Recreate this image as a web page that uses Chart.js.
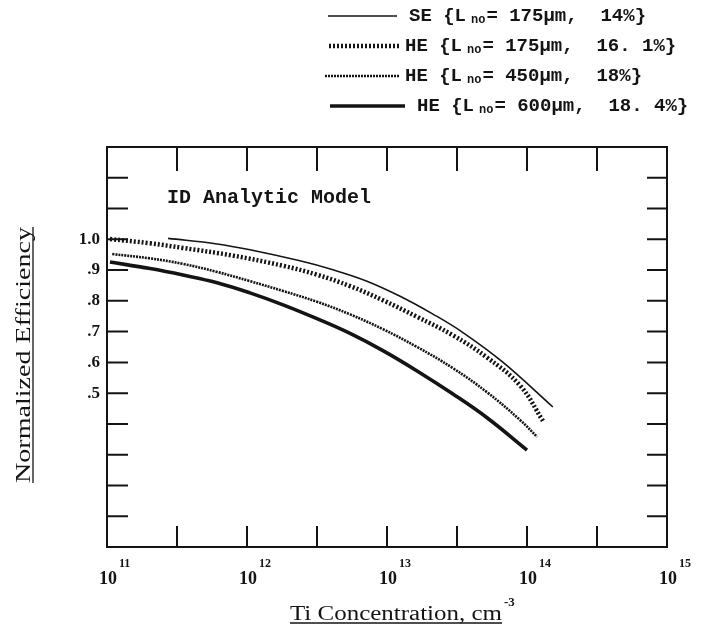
<!DOCTYPE html>
<html><head><meta charset="utf-8">
<script src="https://cdn.jsdelivr.net/npm/chart.js@4/dist/chart.umd.min.js"></script>
<style>html,body{margin:0;padding:0;background:#fff;}canvas{display:block;}</style>
</head><body>
<canvas id="c" width="703" height="628"></canvas>
<script>
// ---- data ----
const seX    = [2.73e11, 6.11e11, 1.05e12, 2.39e12, 4.11e12, 7.19e12, 1.24e13, 2.13e13, 3.49e13, 6.75e13, 1.53e14];
const seY    = [1.003, 0.985, 0.966, 0.930, 0.901, 0.864, 0.815, 0.757, 0.697, 0.600, 0.455];
const he175X = [1.05e11, 2.03e11, 3.49e11, 7.94e11, 1.81e12, 3.16e12, 5.45e12, 9.35e12, 1.64e13, 2.96e13, 5.18e13, 8.91e13, 1.30e14];
const he175Y = [1.001, 0.987, 0.972, 0.947, 0.914, 0.885, 0.848, 0.802, 0.748, 0.688, 0.616, 0.525, 0.410];
const he450X = [1.09e11, 2.03e11, 3.49e11, 6.11e11, 1.05e12, 1.81e12, 3.16e12, 5.45e12, 9.35e12, 1.64e13, 2.96e13, 5.18e13, 8.91e13, 1.18e14];
const he450Y = [0.952, 0.938, 0.920, 0.894, 0.864, 0.832, 0.797, 0.756, 0.708, 0.650, 0.581, 0.503, 0.413, 0.358];
const he600X = [1.05e11, 2.03e11, 3.49e11, 6.11e11, 1.05e12, 1.81e12, 3.16e12, 5.45e12, 9.35e12, 1.64e13, 2.96e13, 5.18e13, 1.00e14];
const he600Y = [0.926, 0.905, 0.884, 0.859, 0.826, 0.787, 0.742, 0.694, 0.638, 0.572, 0.497, 0.420, 0.315];

const seriesPrefix = ['SE {L', 'HE {L', 'HE {L', 'HE {L'];
const seriesSub    = ['no', 'no', 'no', 'no'];
const seriesSuffix = ['= 175\u00b5m,  14%}', '= 175\u00b5m,  16. 1%}', '= 450\u00b5m,  18%}', '= 600\u00b5m,  18. 4%}'];

const xTickExps   = [11, 11.5, 12, 12.5, 13, 13.5, 14, 14.5, 15];
const xLabelExps  = [11, 12, 13, 14, 15];
const yLabelVals  = [0.5, 0.6, 0.7, 0.8, 0.9, 1.0];
const yLabelTexts = ['.5', '.6', '.7', '.8', '.9', '1.0'];
const annotation  = 'ID Analytic Model';
const yTitle = 'Normalized Efficiency';
const xTitle = 'Ti Concentration, cm';
const xTitleSup = '-3';

const pts = (xs, ys) => xs.map((x, i) => ({x: x, y: ys[i]}));
const INK = '#141414';

const datasets = [
  {data: pts(seX, seY),       borderWidth: 1.6, borderDash: []},
  {data: pts(he175X, he175Y), borderWidth: 4.5, borderDash: [2, 2]},
  {data: pts(he450X, he450Y), borderWidth: 2.6, borderDash: [2, 1]},
  {data: pts(he600X, he600Y), borderWidth: 3.6, borderDash: []}
].map((d, i) => Object.assign(d, {
  label: seriesPrefix[i] + ' ' + seriesSub[i] + seriesSuffix[i],
  borderColor: INK, backgroundColor: INK, pointRadius: 0, fill: false,
  tension: 0.4
}));

const SERIF = '"Liberation Serif", "DejaVu Serif", serif';
const MONO = '"Liberation Mono", "DejaVu Sans Mono", monospace';

const decor = {
  id: 'decor',
  afterDraw(chart) {
    const ctx = chart.ctx, a = chart.chartArea;
    const xs = chart.scales.x, ys = chart.scales.y;
    ctx.save();
    ctx.strokeStyle = INK; ctx.fillStyle = INK; ctx.setLineDash([]);
    // frame
    ctx.lineWidth = 2;
    ctx.strokeRect(a.left, a.top, a.right - a.left, a.bottom - a.top);
    // inward ticks on x (top + bottom)
    xs.ticks.forEach(t => {
      const px = xs.getPixelForValue(t.value);
      if (px <= a.left + 1 || px >= a.right - 1) return;
      ctx.beginPath();
      ctx.moveTo(px, a.top); ctx.lineTo(px, a.top + 24);
      ctx.moveTo(px, a.bottom); ctx.lineTo(px, a.bottom - 21);
      ctx.stroke();
    });
    // inward ticks on y (left + right)
    ys.ticks.forEach(t => {
      const py = ys.getPixelForValue(t.value);
      if (py <= a.top + 1 || py >= a.bottom - 1) return;
      ctx.beginPath();
      ctx.moveTo(a.left, py); ctx.lineTo(a.left + 21, py);
      ctx.moveTo(a.right, py); ctx.lineTo(a.right - 20, py);
      ctx.stroke();
    });
    // x decade labels 10^n
    xLabelExps.forEach(e => {
      const px = xs.getPixelForValue(Math.pow(10, e));
      ctx.font = 'bold 18px ' + SERIF;
      ctx.textAlign = 'center'; ctx.textBaseline = 'alphabetic';
      ctx.fillText('10', px + 1, 584);
      const w = ctx.measureText('10').width;
      ctx.font = 'bold 12px ' + SERIF;
      ctx.textAlign = 'left';
      ctx.fillText(String(e), px + 1 + w / 2 + 2, 567);
    });
    // x title (underlined) with superscript
    ctx.font = '20px ' + SERIF;
    ctx.textAlign = 'left';
    const tx = 290, tb = 620, target = 212;
    const mw = ctx.measureText(xTitle).width;
    ctx.save();
    ctx.translate(tx, tb); ctx.scale(target / mw, 1);
    ctx.fillText(xTitle, 0, 0);
    ctx.restore();
    ctx.lineWidth = 1.3;
    ctx.beginPath(); ctx.moveTo(tx, tb + 3); ctx.lineTo(tx + target, tb + 3); ctx.stroke();
    ctx.font = 'bold 13px ' + SERIF;
    ctx.fillText(xTitleSup, tx + target + 2, 606);
    // y title rotated, underlined
    ctx.save();
    ctx.translate(30, 355); ctx.rotate(-Math.PI / 2);
    ctx.font = '20px ' + SERIF;
    ctx.textAlign = 'left';
    const yw = ctx.measureText(yTitle).width, yt = 256;
    ctx.save(); ctx.scale(yt / yw, 1); ctx.fillText(yTitle, -yw / 2, 0); ctx.restore();
    ctx.lineWidth = 1.3;
    ctx.beginPath(); ctx.moveTo(-yt / 2, 3); ctx.lineTo(yt / 2, 3); ctx.stroke();
    ctx.restore();
    // annotation
    ctx.font = 'bold 20px ' + MONO;
    ctx.textAlign = 'left'; ctx.textBaseline = 'middle';
    ctx.fillText(annotation, 167, 198);
    // legend
    const rowY = [16, 46, 76, 106];
    const lineX0 = [328, 329, 325, 330], lineX1 = [397, 400, 400, 405], textX = [409, 405, 405, 417];
    chart.data.datasets.forEach((ds, i) => {
      const y = rowY[i];
      ctx.lineWidth = ds.borderWidth; ctx.setLineDash(ds.borderDash || []);
      ctx.beginPath(); ctx.moveTo(lineX0[i], y); ctx.lineTo(lineX1[i], y); ctx.stroke();
      ctx.setLineDash([]);
      let x = textX[i];
      ctx.textBaseline = 'middle';
      ctx.font = 'bold 19px ' + MONO;
      ctx.fillText(seriesPrefix[i], x, y); x += ctx.measureText(seriesPrefix[i]).width + 5;
      ctx.font = 'bold 12px ' + MONO;
      ctx.fillText(seriesSub[i], x, y + 4); x += ctx.measureText(seriesSub[i]).width + 1;
      ctx.font = 'bold 19px ' + MONO;
      ctx.fillText(seriesSuffix[i], x, y);
    });
    ctx.restore();
  }
};

new Chart(document.getElementById('c'), {
  type: 'line',
  data: {datasets: datasets},
  options: {
    responsive: false, animation: false,
    layout: {padding: {top: 147, right: 36, left: 0, bottom: 0}},
    plugins: {legend: {display: false}, tooltip: {enabled: false}},
    scales: {
      x: {
        type: 'logarithmic', min: 1e11, max: 1e15,
        grid: {display: false}, border: {display: false},
        ticks: {display: false},
        afterBuildTicks: s => { s.ticks = xTickExps.map(e => ({value: Math.pow(10, e)})); },
        afterFit: s => { s.height = 81; }
      },
      y: {
        type: 'linear', min: 0, max: 1.3,
        grid: {display: false, drawTicks: false}, border: {display: false},
        ticks: {
          stepSize: 0.1, padding: 7, color: INK,
          font: {family: SERIF, size: 17, weight: 'bold'},
          callback: v => {
            const k = yLabelVals.findIndex(q => Math.abs(q - v) < 1e-6);
            return k >= 0 ? yLabelTexts[k] : '';
          }
        },
        afterFit: s => { s.width = 107; }
      }
    }
  },
  plugins: [decor]
});
</script>
</body></html>
